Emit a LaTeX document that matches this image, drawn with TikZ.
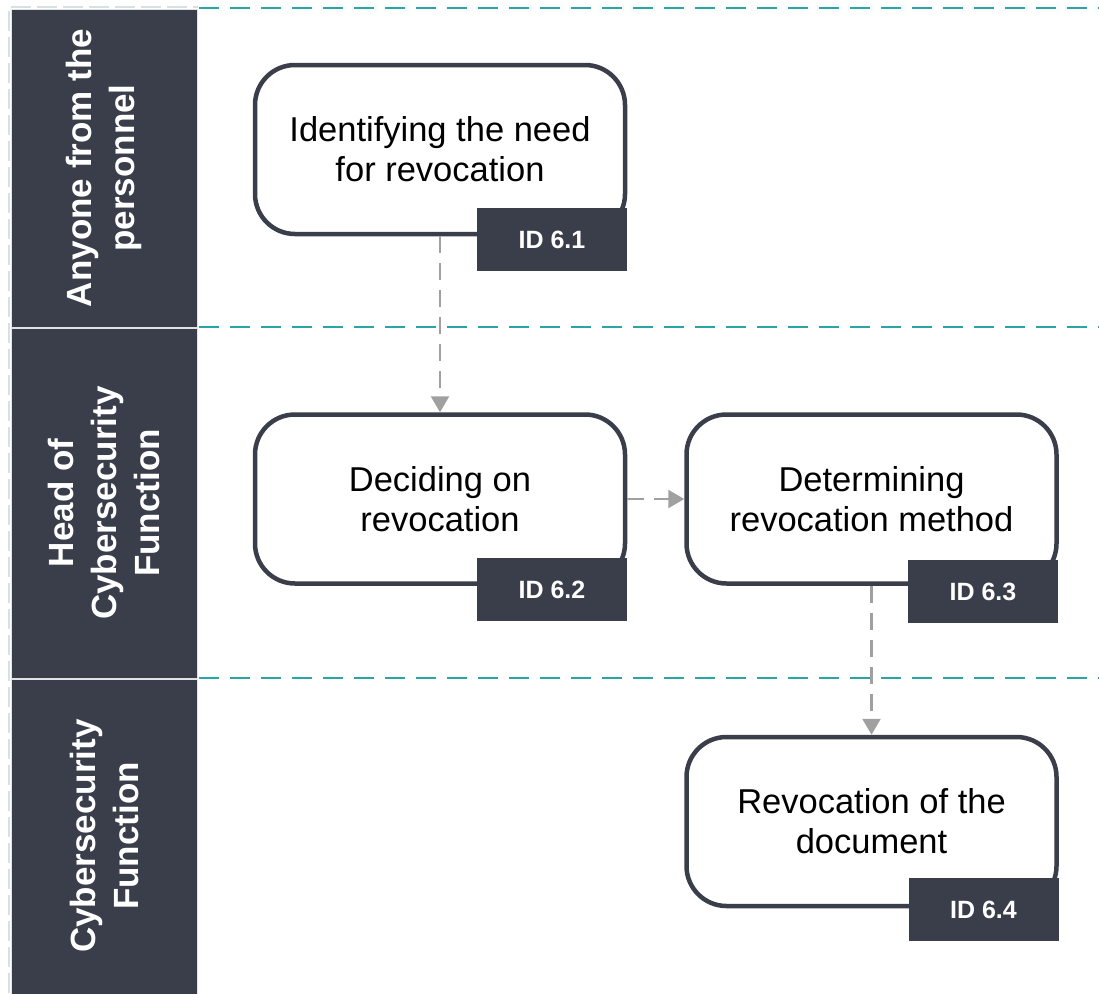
\documentclass[tikz,border=0pt]{standalone}
\usepackage{fontspec}
\setmainfont{Liberation Sans}
\usetikzlibrary{arrows.meta}
\definecolor{slate}{HTML}{393E4A}
\definecolor{laneteal}{HTML}{2AA5A5}
\definecolor{flowgray}{HTML}{A0A0A0}
\definecolor{faintedge}{HTML}{D5E2E2}
\tikzset{
  lanehead/.style={fill=slate, draw=white!85!slate, line width=1pt},
  lanetext/.style={text=white, font=\bfseries\fontsize{35}{43}\selectfont, align=center, rotate=90},
  lanesep/.style={draw=laneteal, line width=2pt, dash pattern=on 20pt off 11pt},
  stepbox/.style={draw=slate, line width=4.5pt, fill=white, rounded corners=40pt,
    minimum width=370pt, minimum height=169pt, align=center,
    font=\fontsize{34.5}{40}\selectfont},
  idtag/.style={fill=slate, text=white, minimum width=150pt, minimum height=63pt,
    inner sep=0pt, font=\bfseries\fontsize{25}{30}\selectfont},
  flow/.style={draw=flowgray, line width=2.5pt, dash pattern=on 17pt off 10pt,
    -{Triangle[width=18pt,length=16pt]}}
}
\begin{document}
\begin{tikzpicture}[x=1pt,y=-1pt]
\useasboundingbox (0,0) rectangle (1099,993);
\fill[white] (0,0) rectangle (1099,993);

% faint outer edge of the pool
\draw[faintedge, line width=1.5pt, dash pattern=on 20pt off 6pt] (9,993) -- (9,7) -- (198,7);

% lane headers
\path[lanehead] (11,9) rectangle (197,327);
\path[lanehead] (11,328) rectangle (197,678);
\path[lanehead] (11,679) rectangle (197,995);
\node[lanetext] (h1) at (104,168) {Anyone from the\\personnel};
\node[lanetext] (h2) at (104,503) {Head of\\Cybersecurity\\Function};
\node[lanetext] (h3) at (104,836) {Cybersecurity\\Function};

% lane separators
\draw[lanesep] (199,8) -- (1099,8);
\draw[lanesep] (199,327) -- (1099,327);
\draw[lanesep] (199,678) -- (1099,678);

% process steps
\node[stepbox] (b1) at (440,149.5) {Identifying the need\\for revocation};
\node[stepbox] (b2) at (440,499) {Deciding on\\revocation};
\node[stepbox] (b3) at (871.5,499) {Determining\\revocation method};
\node[stepbox] (b4) at (871.5,821.5) {Revocation of the\\document};

% connectors
\draw[flow] (b1.south) -- (b2.north);
\draw[flow] (b2.east) -- (b3.west);
\draw[flow] (b3.south) -- (b4.north);

% step identifiers
\node[idtag] (t1) at (552,239.5) {ID 6.1};
\node[idtag] (t2) at (552,589.5) {ID 6.2};
\node[idtag] (t3) at (983,591.5) {ID 6.3};
\node[idtag] (t4) at (983.5,909.5) {ID 6.4};
\end{tikzpicture}
\end{document}
